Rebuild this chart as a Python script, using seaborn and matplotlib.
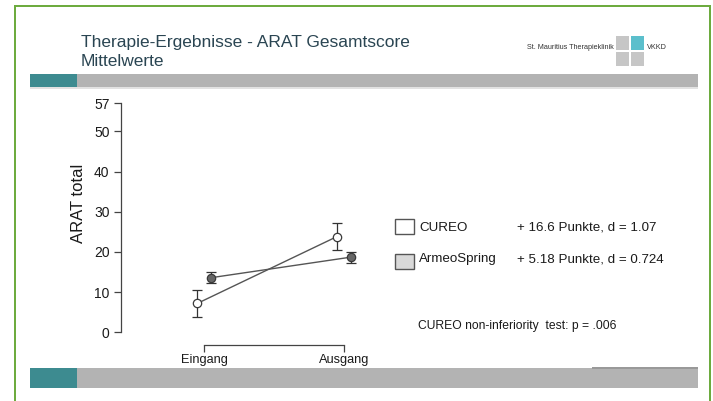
import matplotlib
matplotlib.use("Agg")
import matplotlib.pyplot as plt
from matplotlib.patches import Rectangle
import seaborn as sns
import pandas as pd
import numpy as np

# ---- data ----
times = ["Eingang", "Ausgang"]
groups = ["CUREO", "ArmeoSpring"]
cureo_mean = [7.2, 23.8]
cureo_err = [3.3, 3.3]
armeo_mean = [13.6, 18.7]
armeo_err = [1.3, 1.4]
yticks = [0, 10, 20, 30, 40, 50, 57]
legend_stats = ["+ 16.6 Punkte, d = 1.07", "+ 5.18 Punkte, d = 0.724"]
note = "CUREO non-inferiority  test: p = .006"
title_lines = ["Therapie-Ergebnisse - ARAT Gesamtscore", "Mittelwerte"]

df = pd.DataFrame({
    "group": np.repeat(groups, len(times)),
    "time": times * len(groups),
    "tidx": list(range(len(times))) * len(groups),
    "mean": cureo_mean + armeo_mean,
    "err": cureo_err + armeo_err,
})
offsets = {"CUREO": -0.05, "ArmeoSpring": 0.05}
df["xpos"] = df["tidx"] + df["group"].map(offsets)

sns.set_theme(style="white")
plt.rcParams["font.family"] = ["Liberation Sans", "DejaVu Sans"]

W, H = 713, 401
fig = plt.figure(figsize=(W / 100, H / 100), dpi=100)
fig.patch.set_facecolor("white")


def fx(x):
    return x / W


def fy(y):
    return 1 - y / H


def rect(x0, y0, x1, y1, **kw):
    fig.add_artist(Rectangle((fx(x0), fy(y1)), fx(x1) - fx(x0), fy(y0) - fy(y1),
                             transform=fig.transFigure, **kw))


# ---- slide decoration ----
green = "#6dab3f"
rect(14, 5, 16, 401, facecolor=green, edgecolor="none")
rect(14, 5, 710.5, 7, facecolor=green, edgecolor="none")
rect(708.5, 5, 710.5, 401, facecolor=green, edgecolor="none")

teal = "#3d8b90"
barg = "#b3b3b3"
rect(29.5, 74, 76.5, 87.3, facecolor=teal, edgecolor="none")
rect(76.5, 74, 697.7, 87.3, facecolor=barg, edgecolor="none")
rect(29.5, 87.3, 697.7, 88.5, facecolor="#e2e2e2", edgecolor="none")
rect(29.5, 368.3, 76.5, 387.7, facecolor=teal, edgecolor="none")
rect(76.5, 368.3, 697.7, 387.7, facecolor=barg, edgecolor="none")
rect(591.7, 367, 697.7, 368.5, facecolor="#999999", edgecolor="none")

title_color = "#2a4552"
fig.text(fx(81), fy(47.3), title_lines[0], fontsize=12.5, color=title_color, va="baseline")
fig.text(fx(81), fy(65.7), title_lines[1], fontsize=12.5, color=title_color, va="baseline")

# logo
rect(615.7, 35.7, 629.3, 50, facecolor="#c6c6c6", edgecolor="none")
rect(630.7, 35.7, 644.3, 50, facecolor="#5bbfcc", edgecolor="none")
rect(615.7, 51.7, 629.3, 65.7, facecolor="#c6c6c6", edgecolor="none")
rect(630.7, 51.7, 644.3, 65.7, facecolor="#c6c6c6", edgecolor="none")
fig.text(fx(526.7), fy(47.3), "St. Mauritius Therapieklinik", fontsize=5.2, color="#333333", va="center")
fig.text(fx(646.7), fy(47.3), "VKKD", fontsize=5.2, color="#333333", va="center")

# ---- chart ----
ax_l, ax_r, ax_t, ax_b = 121, 390, 103.3, 345
ax = fig.add_axes([fx(ax_l), fy(ax_b), fx(ax_r) - fx(ax_l), fy(ax_t) - fy(ax_b)])
ax.set_facecolor("none")

line_col = "#555555"
face = {"CUREO": "white", "ArmeoSpring": "#666666"}
for g in groups:
    sub = df[df["group"] == g]
    ax.errorbar(sub["xpos"], sub["mean"], yerr=sub["err"], fmt="none",
                ecolor="#333333", elinewidth=0.9, capsize=3.6, capthick=0.9, zorder=2)
    sns.lineplot(data=sub, x="xpos", y="mean", ax=ax, color=line_col, linewidth=1.0,
                 legend=False, zorder=3, errorbar=None)
    sns.scatterplot(data=sub, x="xpos", y="mean", ax=ax, color=face[g], edgecolor="#3a3a3a",
                    linewidth=0.9, s=36, legend=False, zorder=4)

ax.set_xlim(-0.598, 1.332)
ax.set_ylim(-3.16, 57)
ax.set_xticks(range(len(times)))
ax.set_xticklabels(times, fontsize=9.2)
ax.set_yticks(yticks)
ax.set_yticklabels([str(t) for t in yticks], fontsize=10)
ax.set_xlabel("")
ax.set_ylabel("")
for s in ["top", "right"]:
    ax.spines[s].set_visible(False)
for s in ["left", "bottom"]:
    ax.spines[s].set_visible(True)
    ax.spines[s].set_color("#444444")
    ax.spines[s].set_linewidth(0.9)
ax.spines["left"].set_bounds(0, 57)
ax.spines["bottom"].set_bounds(0, len(times) - 1)
ax.tick_params(axis="both", direction="out", length=4.8, width=0.9, color="#444444",
               labelcolor="#1a1a1a")
ax.tick_params(axis="y", pad=3.5, left=True)
ax.tick_params(axis="x", pad=1.5, bottom=True)
ax.grid(False)

fig.text(fx(78.7), fy(203.7), "ARAT total", rotation=90, fontsize=12, color="#1a1a1a",
         ha="center", va="center")

# ---- manual legend ----
rect(394.5, 219, 414.3, 234.3, facecolor="white", edgecolor="#555555", linewidth=1.0)
rect(394.7, 254.3, 414.3, 269.3, facecolor="#d9d9d9", edgecolor="#555555", linewidth=1.0)
fig.text(fx(419.3), fy(227.7), groups[0], fontsize=9.6, color="#1a1a1a", va="center")
fig.text(fx(419.3), fy(259.3), groups[1], fontsize=9.6, color="#1a1a1a", va="center")
fig.text(fx(516.7), fy(227.7), legend_stats[0], fontsize=9.6, color="#1a1a1a", va="center")
fig.text(fx(516.7), fy(259.3), legend_stats[1], fontsize=9.6, color="#1a1a1a", va="center")
fig.text(fx(417.7), fy(326), note, fontsize=8.7, color="#1a1a1a", va="center")

fig.savefig("out.png", dpi=100)
